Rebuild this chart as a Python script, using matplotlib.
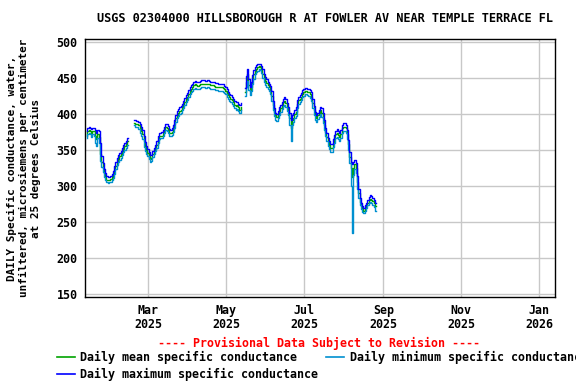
import matplotlib
matplotlib.use("Agg")
import matplotlib.pyplot as plt
from matplotlib.lines import Line2D
import pandas as pd

# ---------------- data ----------------
seg1_start = "2025-01-12"
mean1 = [370,376,378,376,374,377,376,370,365,372,368,345,333,325,318,313,309,308,309,310,
         312,316,322,328,334,338,341,344,348,352,355,358,362]
max1 = [376,381,382,380,379,381,381,378,374,378,377,360,342,332,324,318,314,312,312,314,
        317,321,328,334,339,343,346,349,353,357,360,363,367]
min1 = [366,372,374,372,368,372,370,360,356,366,360,335,326,319,313,308,305,304,305,306,
        308,311,317,323,329,333,336,339,343,347,350,353,357]

seg2_start = "2025-02-18"
mean2 = [388,386,386,386,384, 380,376,372,362,355, 350,346,342,338,339, 344,348,352,357,364,
         369,370,370,374,378, 382,381,378,374,373, 375,379,386,394,399, 402,404,406,410,413,
         417,421,424,428,432, 435,437,440,441,440, 439,440,441,442,442, 442,441,441,442,441,
         440,440,440,439,438, 438,437,437,437,437, 436,434,432,429,426, 423,421,419,416,413,
         411,412,409,406,410]
max2 = [392,391,390,390,389, 386,382,378,370,361, 355,351,347,343,343, 348,353,357,362,369,
        373,374,375,378,382, 386,386,383,379,378, 380,384,391,399,404, 407,409,411,414,418,
        422,426,429,433,437, 440,442,445,446,445, 444,445,446,447,447, 447,446,446,447,446,
        445,445,445,444,443, 443,442,442,442,442, 441,439,437,434,431, 428,426,424,421,418,
        416,417,414,412,415]
min2 = [384,382,382,382,379, 374,370,365,354,349, 345,341,337,334,335, 340,344,348,353,359,
        365,366,366,370,374, 378,377,374,370,369, 371,375,381,389,394, 397,400,402,405,408,
        412,416,419,423,427, 430,432,435,436,435, 434,435,436,437,437, 437,436,436,437,436,
        435,435,435,434,433, 433,432,432,432,432, 431,429,427,424,421, 418,416,414,411,408,
        406,407,404,401,405]

seg3_start = "2025-05-16"
mean3 = [430,445,455,440,432, 438,448,455,460,463, 465,466,465,462,456, 450,446,443,440,437,
         433,425,412,403,398, 396,400,404,408,412, 416,418,415,410,405, 395,380,392,395,400,
         403,414,419,421,424, 428,430,432,432,431, 430,428,424,415,405, 398,395,398,401,405,
         402,395,385,375,368, 362,357,353,353,360, 366,372,374,371,368, 372,380,382,382,380,
         372,358,340,325,312, 325,330,325,305,290, 278,272,268,266,269, 273,277,280,282,281,
         279,276,272]
max3 = [436,452,462,448,437, 444,454,461,465,468, 470,470,469,467,462, 456,451,448,445,442,
        439,432,418,408,402, 400,404,409,413,417, 421,423,421,415,410, 402,392,398,401,406,
        410,419,424,426,429, 433,435,436,436,435, 434,433,430,421,411, 403,399,402,406,410,
        408,401,391,380,373, 367,362,358,358,365, 371,377,379,377,373, 378,385,387,387,385,
        378,364,347,334,330, 334,336,332,314,296, 283,276,272,270,273, 277,281,285,287,286,
        284,281,277]
min3 = [425,438,446,433,426, 432,442,449,455,458, 460,462,461,457,450, 444,440,437,435,432,
        428,418,405,397,392, 390,395,399,403,407, 411,413,409,404,398, 385,363,385,389,394,
        397,408,414,416,419, 423,425,427,427,426, 425,422,418,408,398, 392,389,393,396,400,
        396,388,378,369,362, 356,351,347,347,354, 360,366,368,365,362, 366,374,377,377,374,
        365,350,332,300,235, 315,324,318,296,283, 273,268,264,262,265, 269,273,276,278,277,
        274,271,266]

segments = [(seg1_start, mean1, max1, min1),
            (seg2_start, mean2, max2, min2),
            (seg3_start, mean3, max3, min3)]

tick_dates = ["2025-03-01", "2025-05-01", "2025-07-01", "2025-09-01", "2025-11-01", "2026-01-01"]
tick_labels = ["Mar\n2025", "May\n2025", "Jul\n2025", "Sep\n2025", "Nov\n2025", "Jan\n2026"]
y_ticks = [150, 200, 250, 300, 350, 400, 450, 500]

title = "USGS 02304000 HILLSBOROUGH R AT FOWLER AV NEAR TEMPLE TERRACE FL"
ylabel = "DAILY Specific conductance, water,\nunfiltered, microsiemens per centimeter\nat 25 degrees Celsius"
provisional = "---- Provisional Data Subject to Revision ----"
leg_mean = "Daily mean specific conductance"
leg_min = "Daily minimum specific conductance"
leg_max = "Daily maximum specific conductance"

C_MEAN = "#00A300"
C_MIN = "#0090D0"
C_MAX = "#0000FF"

# ---------------- figure ----------------
W, H = 576, 384
fig = plt.figure(figsize=(W / 100, H / 100), dpi=100)
ax = fig.add_axes([84.5 / W, 1 - 297 / H, (555 - 84.5) / W, (297 - 39) / H])

for start, mn, mx, mi in segments:
    d = pd.date_range(start, periods=len(mn), freq="D")
    ax.plot(d, mn, color=C_MEAN, lw=1.0, drawstyle="steps-mid", zorder=3)
    ax.plot(d, mi, color=C_MIN, lw=1.0, drawstyle="steps-mid", zorder=3)
    ax.plot(d, mx, color=C_MAX, lw=1.0, drawstyle="steps-mid", zorder=4)

ax.set_xlim(pd.Timestamp("2025-01-10 08:00"), pd.Timestamp("2026-01-13 08:00"))
ax.set_ylim(146, 504)

mono = "DejaVu Sans Mono"
ax.set_xticks(pd.to_datetime(tick_dates))
ax.set_xticklabels(tick_labels, family=mono, weight="bold", fontsize=8.4, linespacing=1.15)
ax.set_yticks(y_ticks)
ax.set_yticklabels([str(v) for v in y_ticks], family=mono, weight="bold", fontsize=8.4)
ax.tick_params(axis="both", length=0, pad=5)
ax.grid(True, color="#C8C8C8", lw=1.0, zorder=0)
ax.set_axisbelow(True)
for s in ax.spines.values():
    s.set_color("black")
    s.set_linewidth(1.0)

fig.text(325 / W, 1 - 19 / H, title, family=mono, weight="bold", fontsize=8.6,
         ha="center", va="center")
fig.text(24 / W, 1 - 168 / H, ylabel, family=mono, weight="bold", fontsize=7.9,
         rotation=90, ha="center", va="center", multialignment="center", linespacing=1.3)
fig.text(319 / W, 1 - 343 / H, provisional, family=mono, weight="bold", fontsize=8.4,
         color="red", ha="center", va="center")

def leg(x0, x1, xt, y, color, label):
    fig.add_artist(Line2D([x0 / W, x1 / W], [1 - y / H, 1 - y / H], color=color, lw=1.2,
                          transform=fig.transFigure))
    fig.text(xt / W, 1 - y / H, label, family=mono, weight="bold", fontsize=8.4,
             ha="left", va="center")

leg(57, 75, 80, 357, C_MEAN, leg_mean)
leg(326, 344, 350, 357, C_MIN, leg_min)
leg(57, 75, 80, 374, C_MAX, leg_max)

fig.savefig("out.png", dpi=100)
